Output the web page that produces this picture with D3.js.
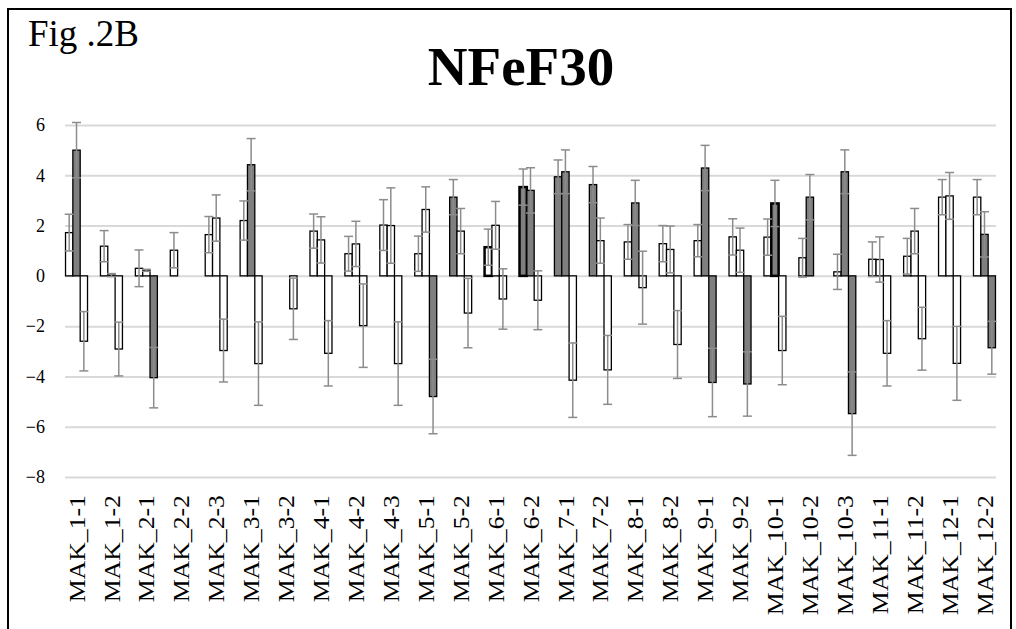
<!DOCTYPE html>
<html>
<head>
<meta charset="utf-8">
<script src="https://cdn.jsdelivr.net/npm/d3@7/dist/d3.min.js"></script>
<style>
  html, body { margin: 0; padding: 0; background: #fff; }
  svg { display: block; }
  svg text { font-family: "Liberation Serif", "Times New Roman", serif !important; fill: #000; }
</style>
</head>
<body>
<svg id="chart" width="1016" height="629"></svg>
<script>
// ---- data ----
const categories = ["MAK_1-1","MAK_1-2","MAK_2-1","MAK_2-2","MAK_2-3","MAK_3-1","MAK_3-2","MAK_4-1","MAK_4-2","MAK_4-3","MAK_5-1","MAK_5-2","MAK_6-1","MAK_6-2","MAK_7-1","MAK_7-2","MAK_8-1","MAK_8-2","MAK_9-1","MAK_9-2","MAK_10-1","MAK_10-2","MAK_10-3","MAK_11-1","MAK_11-2","MAK_12-1","MAK_12-2"];
const series1 = [1.72, 1.18, 0.30, 1.02, 1.64, 2.20, null, 1.78, 0.88, 2.02, 0.88, 3.13, 1.14, 3.53, 3.94, 3.63, 1.35, 1.28, 1.40, 1.55, 1.54, 0.72, 0.16, 0.66, 0.78, 3.13, 3.13];
const error1  = [0.73, 0.62, 0.73, 0.70, 0.72, 0.78, null, 0.68, 0.69, 1.01, 0.70, 0.70, 0.72, 0.72, 0.67, 0.72, 0.69, 0.72, 0.64, 0.72, 0.72, 0.77, 0.70, 0.69, 0.71, 0.70, 0.70];
const series2 = [5.00, 0.03, 0.22, null, 2.30, 4.42, null, 1.43, 1.27, 2.00, 2.64, 1.78, 2.01, 3.40, 4.14, 1.40, 2.90, 1.05, 4.29, 1.02, 2.88, 3.13, 4.14, 0.65, 1.78, 3.18, 1.65];
const error2  = [1.10, 0.06, 0.04, null, 0.92, 1.04, null, 0.92, 0.90, 1.50, 0.90, 0.90, 0.95, 0.90, 0.87, 0.90, 0.90, 0.93, 0.90, 0.88, 0.92, 0.90, 0.87, 0.90, 0.90, 0.93, 0.90];
const series3 = [-2.60, -2.91, -4.05, null, -2.97, -3.49, -1.31, -3.08, -1.98, -3.49, -4.80, -1.48, -0.92, -0.97, -4.15, -3.74, -0.47, -2.73, -4.24, -4.30, -2.97, null, -5.48, -3.08, -2.50, -3.48, -2.86];
const error3  = [1.18, 1.07, 1.20, null, 1.25, 1.66, 1.22, 1.30, 1.66, 1.66, 1.48, 1.38, 1.20, 1.17, 1.48, 1.37, 1.45, 1.35, 1.36, 1.28, 1.36, null, 1.66, 1.30, 1.25, 1.47, 1.05];
// 1 = dark (grey-filled) bar, 0 = white bar
const dark1 = [0,0,0,0,0,0,0,0,0,0,0,1,0,1,1,1,0,0,0,0,0,0,0,0,0,0,0];
const dark2 = [1,0,0,0,0,1,0,0,0,0,0,0,0,1,1,0,1,0,1,0,1,1,1,0,0,0,1];
const dark3 = [0,0,1,0,0,0,0,0,0,0,1,0,0,0,0,0,0,0,1,1,0,0,1,0,0,0,1];
// 1 = heavy outline
const bold1 = [0,0,0,0,0,0,0,0,0,0,0,0,1,1,0,0,0,0,0,0,0,0,0,0,0,0,0];
const bold2 = [0,0,0,0,0,0,0,0,0,0,0,0,0,0,0,0,0,0,0,0,1,0,0,0,0,0,0];
const bold3 = [0,0,0,0,0,0,0,0,0,0,0,0,0,0,0,0,0,0,0,0,0,0,0,0,0,0,0];
const yTicks = [-8, -6, -4, -2, 0, 2, 4, 6];
const titleText = "NFeF30";
const figLabel = "Fig .2B";

// ---- layout ----
const FONT = '"Liberation Serif", "Times New Roman", serif';
const svg = d3.select("#chart");
const plot = { left: 65, right: 996, top: 125, bottom: 477 };

const x = d3.scalePoint().domain(categories).range([plot.left, plot.right]).padding(0.33);
const sub = d3.scaleBand().domain([0, 1, 2]).range([-11, 11]).padding(0);
const y = d3.scaleLinear().domain([-8, 6]).range([plot.bottom, plot.top]);

// outer chart border
svg.append("rect")
  .attr("x", 8).attr("y", 9).attr("width", 1003).attr("height", 640)
  .attr("fill", "none").attr("stroke", "#000").attr("stroke-width", 2);

// title + figure label
svg.append("text").attr("x", 521).attr("y", 85).attr("text-anchor", "middle")
  .style("font-family", FONT).style("font-size", "55px").style("font-weight", "bold").text(titleText);
svg.append("text").attr("x", 28).attr("y", 46)
  .style("font-family", FONT).style("font-size", "37px").text(figLabel);

// gridlines + y labels via axis
const yAxis = svg.append("g").attr("transform", `translate(${plot.left},0)`)
  .call(d3.axisLeft(y).tickValues(yTicks).tickSize(-(plot.right - plot.left)).tickPadding(20).tickFormat(d3.format("d")));
yAxis.attr("font-family", null).attr("font-size", null);
yAxis.select(".domain").remove();
yAxis.selectAll(".tick line").attr("stroke", "#d9d9d9").attr("stroke-width", 2);
yAxis.selectAll(".tick text")
  .style("font-family", FONT).style("font-size", "18px").style("fill", "#000");

// x labels via axis
const xAxis = svg.append("g").attr("transform", `translate(0,${plot.bottom})`)
  .call(d3.axisBottom(x).tickSize(0));
xAxis.attr("font-family", null).attr("font-size", null);
xAxis.select(".domain").remove();
xAxis.selectAll(".tick text")
  .attr("x", 0).attr("y", 0).attr("dy", "0.33em")
  .attr("text-anchor", "end")
  .style("font-family", FONT).style("font-size", "23px").style("fill", "#000")
  .attr("transform", "translate(0,18) scale(1,1.12) rotate(-90)");

// build bar records
const seriesVals = [series1, series2, series3];
const seriesErr = [error1, error2, error3];
const seriesDark = [dark1, dark2, dark3];
const seriesBold = [bold1, bold2, bold3];
const records = [];
categories.forEach((c, i) => {
  for (let s = 0; s < 3; s++) {
    const v = seriesVals[s][i];
    if (v === null) continue;
    records.push({ cat: c, s, v, e: seriesErr[s][i], dark: seriesDark[s][i], bold: seriesBold[s][i] });
  }
});

const bw = sub.bandwidth();
const bars = svg.append("g");
bars.selectAll("rect").data(records).join("rect")
  .attr("x", d => x(d.cat) + sub(d.s))
  .attr("width", bw)
  .attr("y", d => y(Math.max(0, d.v)))
  .attr("height", d => Math.abs(y(d.v) - y(0)))
  .attr("fill", d => d.dark ? "#7f7f7f" : "#ffffff")
  .attr("stroke", "#000")
  .attr("stroke-width", d => d.bold ? 2.5 : 1.3);

// error bars
const eg = svg.append("g").attr("stroke", "#8c8c8c").attr("stroke-width", 1.5);
records.filter(d => d.e !== null).forEach(d => {
  const cx = x(d.cat) + sub(d.s) + bw / 2;
  const y1 = y(d.v + d.e), y2 = y(d.v - d.e);
  eg.append("line").attr("x1", cx).attr("x2", cx).attr("y1", y1).attr("y2", y2);
  eg.append("line").attr("x1", cx - 4.5).attr("x2", cx + 4.5).attr("y1", y1).attr("y2", y1);
  eg.append("line").attr("x1", cx - 4.5).attr("x2", cx + 4.5).attr("y1", y2).attr("y2", y2);
});
</script>
</body>
</html>
